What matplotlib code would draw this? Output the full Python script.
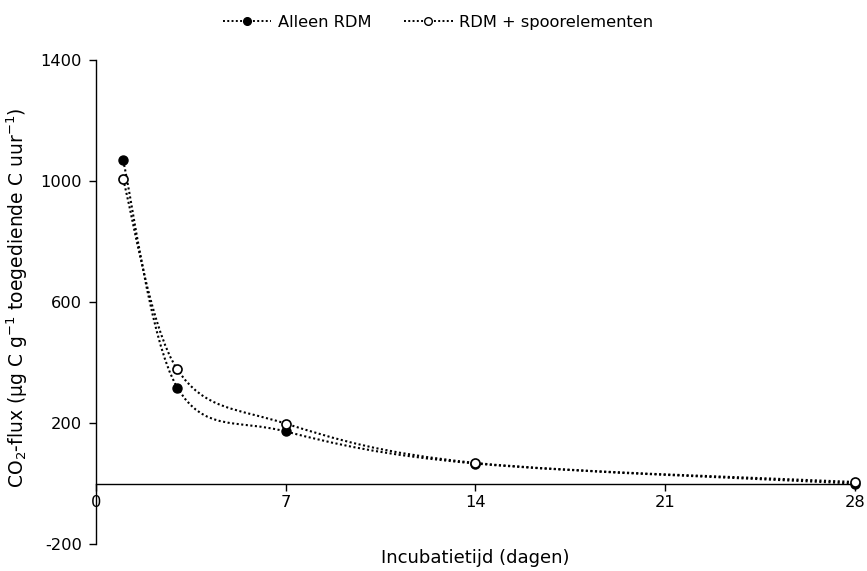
import numpy as np
import matplotlib
matplotlib.use("Agg")
import matplotlib.pyplot as plt
from matplotlib.path import Path
from matplotlib.patches import PathPatch

dagen = [1, 3, 7, 14, 28]
alleen_rdm = [1068, 317, 172, 66, 0]
rdm_spoor = [1005, 377, 198, 68, 5]

xticks = [0, 7, 14, 21, 28]
yticks = [-200, 200, 600, 1000, 1400]


def smooth_path(x, y):
    # bezier door de punten, zoals de "vloeiende lijn" van Excel
    x = np.asarray(x, float); y = np.asarray(y, float)
    n = len(x)
    verts = [(x[0], y[0])]
    codes = [Path.MOVETO]
    for i in range(n - 1):
        i0 = max(i - 1, 0); i3 = min(i + 2, n - 1)
        c1 = (x[i] + (x[i+1] - x[i0]) / 6, y[i] + (y[i+1] - y[i0]) / 6)
        c2 = (x[i+1] - (x[i3] - x[i]) / 6, y[i+1] - (y[i3] - y[i]) / 6)
        verts += [c1, c2, (x[i+1], y[i+1])]
        codes += [Path.CURVE4] * 3
    return Path(verts, codes)


plt.rcParams['font.family'] = ['DejaVu Sans']
plt.rcParams['axes.unicode_minus'] = False
fig = plt.figure(figsize=(8.67, 5.71), dpi=100)
ax = fig.add_axes([96/867, 27/571, (855-96)/867, (544-60)/571])

for yv in [alleen_rdm, rdm_spoor]:
    p = PathPatch(smooth_path(dagen, yv), facecolor='none', edgecolor='black',
                  linestyle=(0, (1, 1.2)), linewidth=1.5, zorder=2)
    ax.add_patch(p)

ax.plot(dagen, alleen_rdm, linestyle='none', marker='o', clip_on=False,
        markersize=6.5, markerfacecolor='black', markeredgecolor='black', zorder=3)
ax.plot(dagen, rdm_spoor, linestyle='none', marker='o', clip_on=False,
        markersize=6.5, markerfacecolor='white', markeredgecolor='black',
        markeredgewidth=1.2, zorder=4)

# legenda-items
h1, = ax.plot([], [], linestyle=(0, (1, 1.2)), color='black', linewidth=1.4,
              marker='o', markersize=5.5, markerfacecolor='black', label='Alleen RDM')
h2, = ax.plot([], [], linestyle=(0, (1, 1.2)), color='black', linewidth=1.4,
              marker='o', markersize=5.5, markerfacecolor='white', label='RDM + spoorelementen')
fig.legend(handles=[h1, h2], loc='upper center', bbox_to_anchor=(0.505, 1.0),
           ncol=2, frameon=False, fontsize=11.7, handlelength=3.0, columnspacing=2.0,
           handletextpad=0.4)

ax.set_xlim(0, 28)
ax.set_ylim(-200, 1400)
ax.set_xticks(xticks)
ax.set_yticks(yticks)

ax.spines['top'].set_visible(False)
ax.spines['right'].set_visible(False)
ax.spines['bottom'].set_position(('data', 0))
ax.spines['left'].set_linewidth(1.0)
ax.spines['bottom'].set_linewidth(1.0)
ax.tick_params(axis='both', labelsize=11.7, length=5, direction='out', width=1)
ax.tick_params(axis='y', pad=5)

ax.set_xlabel('Incubatietijd (dagen)', fontsize=13)
ax.xaxis.set_label_coords(0.5, -0.01)
ax.set_ylabel(r'CO$_\mathregular{2}$-flux (µg C g$^\mathregular{-1}$ toegediende C uur$^\mathregular{-1}$)',
              fontsize=13.5)
ax.yaxis.set_label_coords(-0.087, 0.508)

fig.savefig('out.png', dpi=100)
